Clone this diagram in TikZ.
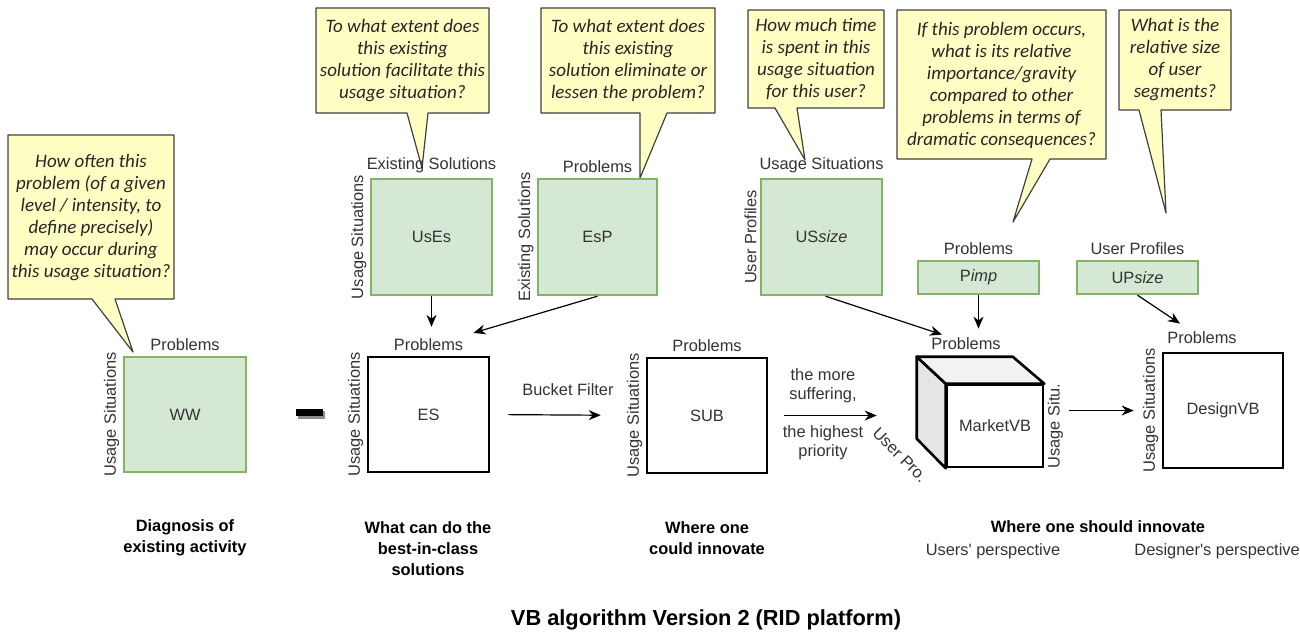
\documentclass[tikz,border=0pt]{standalone}
\usepackage{fontspec}
\setmainfont{Liberation Sans}
\newfontfamily\notefont{Carlito}
\usetikzlibrary{arrows.meta,positioning,calc}
\definecolor{vbgreen}{HTML}{D5E8D4}
\definecolor{vbgreenline}{HTML}{82B366}
\definecolor{noteyellow}{HTML}{FFFFC4}

\begin{document}
\begin{tikzpicture}[
    x=0.5pt, y=-0.5pt,
    gbox/.style={rectangle, draw=vbgreenline, fill=vbgreen, line width=1.2pt,
                 text=black!80, font=\fontsize{8.2}{10}\selectfont},
    kbox/.style={rectangle, draw, fill=white, line width=1.3pt,
                 text=black!80, font=\fontsize{8.2}{10}\selectfont},
    lab/.style={inner sep=1.5pt, text=black!80, font=\fontsize{8.2}{10}\selectfont},
    side/.style={lab, rotate=90, anchor=south},
    note/.style={draw=black!75, fill=noteyellow, line width=0.6pt, line join=round},
    notetext/.style={align=center, text=black!85,
                     font=\notefont\itshape\fontsize{9.5}{11}\selectfont},
    capt/.style={align=center, font=\bfseries\fontsize{8.2}{10.5}\selectfont},
    arrow/.style={-{Stealth[length=6pt,width=5pt]}, line width=0.6pt}
  ]
  \useasboundingbox (0,0) rectangle (1300,634);

  % question callouts
  \draw[note] (8,135) -- (174,135) -- (174,299) -- (115,299) -- (133,352) -- (92,299) -- (8,299) -- cycle;
  \node[notetext] (q-ww) at (91,218) {How often this\\problem (of a given\\level / intensity, to\\define precisely)\\may occur during\\this usage situation?};
  \draw[note] (316,8) -- (489,8) -- (489,113) -- (428,113) -- (422,168) -- (407,113) -- (316,113) -- cycle;
  \node[notetext] (q-uses) at (402.5,60.5) {To what extent does\\this existing\\solution facilitate this\\usage situation?};
  \draw[note] (541,8) -- (715,8) -- (715,113) -- (667,113) -- (640,178) -- (640,113) -- (541,113) -- cycle;
  \node[notetext] (q-esp) at (628,60.5) {To what extent does\\this existing\\solution eliminate or\\lessen the problem?};
  \draw[note] (748,10) -- (884,10) -- (884,108) -- (797,108) -- (805,160) -- (775,108) -- (748,108) -- cycle;
  \node[notetext] (q-us) at (816,59) {How much time\\is spent in this\\usage situation\\for this user?};
  \draw[note] (897,10) -- (1106,10) -- (1106,159) -- (1050,159) -- (1013,222) -- (1032,159) -- (897,159) -- cycle;
  \node[notetext] (q-pimp) at (1001.5,85) {If this problem occurs,\\what is its relative\\importance/gravity\\compared to other\\problems in terms of\\dramatic consequences?};
  \draw[note] (1119,10) -- (1231,10) -- (1231,110) -- (1161,110) -- (1166,213) -- (1139,110) -- (1119,110) -- cycle;
  \node[notetext] (q-up) at (1175,60) {What is the\\relative size\\of user\\segments?};

  % upper matrices
  \node[gbox, minimum width=60.5pt, minimum height=58pt] (uses) at (431.5,237) {UsEs};
  \node[lab, above=1pt of uses] (uses-t) {Existing Solutions};
  \node[side] (uses-s) at (uses.west) {Usage Situations};
  \node[gbox, minimum width=59.5pt, minimum height=58pt] (esp) at (597.5,237) {EsP};
  \node[lab, above=1pt of esp] (esp-t) {Problems};
  \node[side] (esp-s) at (esp.west) {Existing Solutions};
  \node[gbox, minimum width=60.5pt, minimum height=58pt] (us) at (821.5,237) {US\textit{size}};
  \node[lab, above=1pt of us] (us-t) {Usage Situations};
  \node[side] (us-s) at (us.west) {User Profiles};
  \node[gbox, minimum width=60.5pt, minimum height=16.5pt] (pimp) at (978.5,277.5) {P\textit{imp}};
  \node[lab, above=1pt of pimp] (pimp-t) {Problems};
  \node[gbox, minimum width=60.5pt, minimum height=16.5pt] (up) at (1137.5,277.5) {UP\textit{size}};
  \node[lab, above=1pt of up] (up-t) {User Profiles};

  % main row
  \node[gbox, minimum width=61pt, minimum height=57.5pt] (ww) at (185,414.5) {WW};
  \node[lab, above=1pt of ww] (ww-t) {Problems};
  \node[side] (ww-s) at (ww.west) {Usage Situations};
  \fill[black!45] (298,411) rectangle (325,419);
  \fill[black] (296,409) rectangle (323,416);
  \node[kbox, minimum width=60.5pt, minimum height=57.5pt] (es) at (428.5,414.5) {ES};
  \node[lab, above=1pt of es] (es-t) {Problems};
  \node[side] (es-s) at (es.west) {Usage Situations};
  \node[kbox, minimum width=60pt, minimum height=57.5pt] (sub) at (707,415.5) {SUB};
  \node[lab, above=1pt of sub] (sub-t) {Problems};
  \node[side] (sub-s) at (sub.west) {Usage Situations};
  \node[kbox, minimum width=48pt, minimum height=41pt] (mvb) at (995,426) {MarketVB};
  \filldraw[line width=1.3pt, fill=black!10, line join=round]
    (mvb.north west) -- ++(-29,-27) -- ++(0,82) -- (mvb.south west) -- cycle;
  \filldraw[line width=1.3pt, fill=black!5, line join=round]
    (mvb.north west) -- ++(-29,-27) -- ++(96,0) -- (mvb.north east) -- cycle;
  \node[lab] (mvb-t) at (966,344) {Problems};
  \node[side, anchor=north] (mvb-s) at (mvb.east) {Usage Situ.};
  \node[lab, rotate=-45] (mvb-u) at (900,455) {User Pro.};
  \node[kbox, minimum width=60pt, minimum height=57.5pt] (dvb) at (1223,410.5) {DesignVB};
  \node[lab] (dvb-t) at (1202,338) {Problems};
  \node[side] (dvb-s) at (dvb.west) {Usage Situations};

  % connectors
  \draw[arrow, shorten >=4pt] (uses.south) -- (uses.south |- es-t.north);
  \draw[arrow] (esp.south) -- ([shift={(3.5pt,1pt)}]es-t.north east);
  \draw[arrow] ([xshift=2pt]us.south) -- ([xshift=7pt]mvb-t.north west);
  \draw[arrow, shorten >=3pt] (pimp.south) -- (pimp.south |- mvb-t.north);
  \draw[arrow] (up.south) -- ([shift={(-11pt,2.5pt)}]dvb-t.north);
  \draw[arrow, shorten <=9pt, shorten >=22.5pt] (es.east) -- (sub.west)
    node[lab, midway, above=8pt] (bucket) {Bucket Filter};
  \draw[arrow, shorten <=8pt, shorten >=34.5pt] (sub.east) -- (sub.east -| mvb.west);
  \node[lab, align=center, font=\fontsize{8.2}{9.5}\selectfont] (more) at (823,386) {the more\\suffering,};
  \node[lab, align=center, font=\fontsize{8.2}{9.5}\selectfont] (high) at (823,443) {the highest\\priority};
  \draw[arrow, shorten <=12.5pt, shorten >=14pt] (dvb.west -| mvb.east) -- (dvb.west);

  % captions
  \node[capt] (c-ww) at (185,538) {Diagnosis of\\existing activity};
  \node[capt] (c-es) at (428,549) {What can do the\\best-in-class\\solutions};
  \node[capt] (c-sub) at (707,538) {Where one\\could innovate};
  \node[capt] (c-mvb) at (1098,527) {Where one should innovate};
  \node[lab] (c-user) at (993,551) {Users\textquotesingle\ perspective};
  \node[lab, anchor=west] (c-des) at (1131,551) {Designer\textquotesingle s perspective};
  \node[font=\bfseries\fontsize{10.9}{13}\selectfont] (title) at (706,620) {VB algorithm Version 2 (RID platform)};
\end{tikzpicture}
\end{document}
